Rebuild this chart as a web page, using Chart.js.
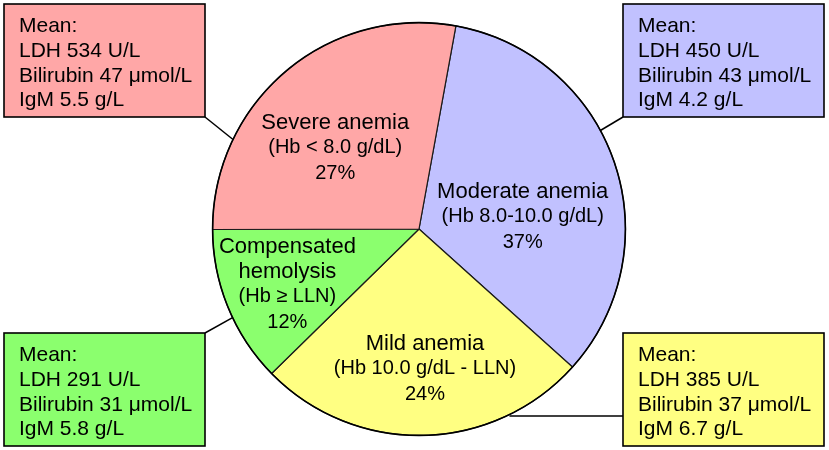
<!DOCTYPE html>
<html>
<head>
<meta charset="utf-8">
<script src="https://cdn.jsdelivr.net/npm/chart.js@4"></script>
<style>
  html, body { margin: 0; padding: 0; background: #fff; }
  #wrap { width: 829px; height: 450px; }
</style>
</head>
<body>
<div id="wrap"><canvas id="pie" width="829" height="450"></canvas></div>
<script>
// slices in clockwise order starting just right of 12 o'clock
const categories = ['Moderate anemia', 'Mild anemia', 'Compensated|hemolysis', 'Severe anemia'];
const hbRanges = ['(Hb 8.0-10.0 g/dL)', '(Hb 10.0 g/dL - LLN)', '(Hb \u2265 LLN)', '(Hb < 8.0 g/dL)'];
const percentLabels = ['37%', '24%', '12%', '27%'];
const shares = [33.8, 26.0, 12.3, 27.9]; // slice sizes as drawn
const meanLDH = [450, 385, 291, 534];
const meanBilirubin = [43, 37, 31, 47];
const meanIgM = ['4.2', '6.7', '5.8', '5.5'];

const sliceColors = ['#C1C1FF', '#FFFF82', '#8BFF6E', '#FFA7A7'];

// where things go (pixels relative to pie centre, radius 207 basis)
const labelAnchor = [[104, -31], [6, 121], [-132, 24], [-84, -100]];
const boxes = [ // x, y, connector corner, angle on pie edge (deg clockwise from top)
  { x: 623, y: 4, cx: 623, cy: 117, ang: 61.5 },
  { x: 623, y: 333, cx: 623, cy: 416, ang: 154, flat: true },
  { x: 4, y: 333, cx: 205, cy: 333, ang: 244.6 },
  { x: 4, y: 4, cx: 205, cy: 117, ang: 295.7 }
];
const FONT = '"Liberation Sans", Arial, sans-serif';

const overlay = {
  id: 'overlay',
  afterDatasetsDraw(chart) {
    const ctx = chart.ctx;
    const arc = chart.getDatasetMeta(0).data[0];
    const cx = arc.x, cy = arc.y, r = arc.outerRadius;
    const k = r / 207;
    ctx.save();

    // outer rim a little heavier, like the original
    ctx.beginPath();
    ctx.arc(cx, cy, r, 0, Math.PI * 2);
    ctx.lineWidth = 1.6;
    ctx.strokeStyle = '#000';
    ctx.stroke();

    // connectors
    ctx.lineWidth = 1.5;
    boxes.forEach(b => {
      const a = b.ang * Math.PI / 180;
      let ex = cx + Math.sin(a) * r, ey = cy - Math.cos(a) * r;
      if (b.flat) ey = b.cy;
      ctx.beginPath();
      ctx.moveTo(b.cx, b.cy);
      ctx.lineTo(ex, ey);
      ctx.stroke();
    });

    // boxes
    boxes.forEach((b, i) => {
      ctx.fillStyle = sliceColors[i];
      ctx.fillRect(b.x, b.y, 201, 113);
      ctx.lineWidth = 1.6;
      ctx.strokeStyle = '#000';
      ctx.strokeRect(b.x, b.y, 201, 113);
      ctx.fillStyle = '#000';
      ctx.font = '21px ' + FONT;
      ctx.textAlign = 'left';
      ctx.textBaseline = 'alphabetic';
      const lines = ['Mean:', 'LDH ' + meanLDH[i] + ' U/L',
        'Bilirubin ' + meanBilirubin[i] + ' \u03bcmol/L', 'IgM ' + meanIgM[i] + ' g/L'];
      lines.forEach((t, j) => ctx.fillText(t, b.x + 15, b.y + 28 + j * 24.8));
    });

    // slice labels
    ctx.textAlign = 'center';
    categories.forEach((c, i) => {
      const x = cx + labelAnchor[i][0] * k;
      let y = cy + labelAnchor[i][1] * k;
      ctx.font = '22px ' + FONT;
      c.split('|').forEach(t => { ctx.fillText(t, x, y); y += 25; });
      ctx.font = '20px ' + FONT;
      ctx.fillText(hbRanges[i], x, y - 1);
      y += 25;
      ctx.fillText(percentLabels[i], x, y);
    });
    ctx.restore();
  }
};

new Chart(document.getElementById('pie'), {
  type: 'pie',
  data: {
    labels: categories.map(c => c.replace('|', ' ')),
    datasets: [{
      data: shares,
      backgroundColor: sliceColors,
      borderColor: '#1a1a1a',
      borderWidth: 1.2,
      hoverOffset: 0
    }]
  },
  options: {
    responsive: false,
    animation: false,
    rotation: 10.3,
    layout: { padding: { left: 212, right: 203, top: 22, bottom: 14 } },
    plugins: { legend: { display: false }, tooltip: { enabled: false } }
  },
  plugins: [overlay]
});
</script>
</body>
</html>
